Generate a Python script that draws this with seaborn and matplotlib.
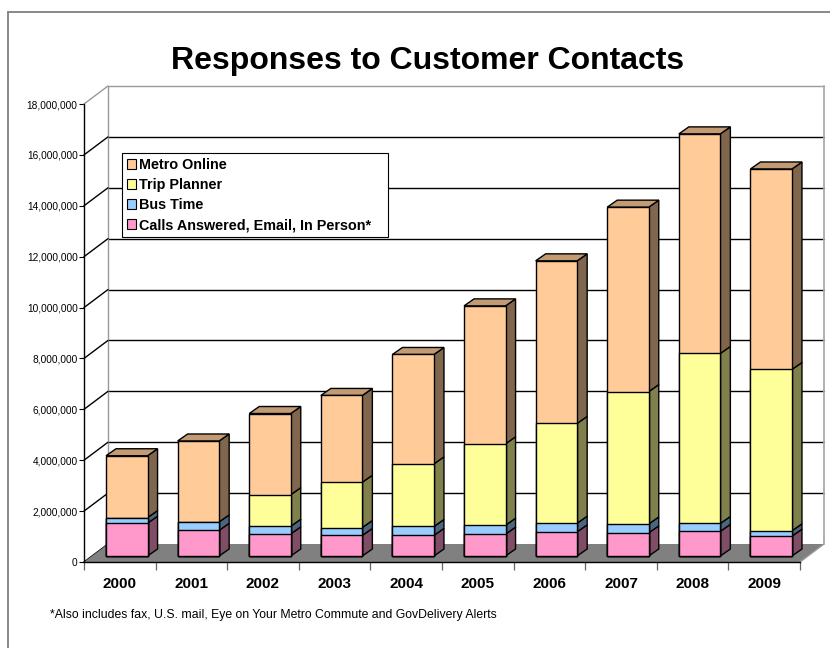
import numpy as np
import pandas as pd
import matplotlib
matplotlib.use("Agg")
import matplotlib.pyplot as plt
import matplotlib.transforms as mtransforms
from matplotlib.patches import Polygon, Patch
from matplotlib.lines import Line2D
from matplotlib.ticker import FixedLocator, FuncFormatter
from matplotlib.colors import to_rgb
import seaborn as sns

# ---------------- data ----------------
years = ["2000", "2001", "2002", "2003", "2004", "2005", "2006", "2007", "2008", "2009"]
calls = [1.29e6, 1.01e6, 0.87e6, 0.81e6, 0.81e6, 0.86e6, 0.95e6, 0.91e6, 0.97e6, 0.78e6]
bus_time = [0.22e6, 0.33e6, 0.30e6, 0.31e6, 0.35e6, 0.35e6, 0.34e6, 0.35e6, 0.31e6, 0.21e6]
trip_planner = [0.0, 0.0, 1.24e6, 1.78e6, 2.46e6, 3.20e6, 3.92e6, 5.20e6, 6.68e6, 6.34e6]
metro_online = [2.43e6, 3.18e6, 3.19e6, 3.41e6, 4.30e6, 5.42e6, 6.39e6, 7.25e6, 8.63e6, 7.88e6]

series_names = ["Calls Answered, Email, In Person*", "Bus Time", "Trip Planner", "Metro Online"]
series_values = [calls, bus_time, trip_planner, metro_online]
series_colors = ["#FF99CC", "#99CCFF", "#FFFF99", "#FFCC99"]
y_ticks = [0, 2e6, 4e6, 6e6, 8e6, 10e6, 12e6, 14e6, 16e6, 18e6]

title = "Responses to Customer Contacts"
footnote = "*Also includes fax, U.S. mail, Eye on Your Metro Commute and GovDelivery Alerts"

# ---------------- style ----------------
sns.set_style("white")
plt.rcParams["font.family"] = ["Liberation Sans", "DejaVu Sans"]
plt.rcParams["text.color"] = "black"
plt.rcParams["xtick.color"] = "black"
plt.rcParams["ytick.color"] = "black"
plt.rcParams["axes.labelcolor"] = "black"

W, H = 830, 648
fig = plt.figure(figsize=(W / 100, H / 100), dpi=100)
ax_left, ax_bottom, ax_w, ax_h = 84, 562, 716, 458
ax = fig.add_axes([ax_left / W, (H - ax_bottom) / H, ax_w / W, ax_h / H])

ymax = y_ticks[-1]
n = len(years)
ppx = ax_w / n          # pixels per category unit
ppy = ax_h / ymax       # pixels per value unit

# depth geometry (pixels)
wall_dx, wall_dy = 24, 18     # back wall offset
front_dx, front_dy = 7, 6     # bar front face offset from front plane
bar_dx, bar_dy = 10, 7        # bar depth
bar_w = 0.58

def shade(c, f):
    r, g, b = to_rgb(c)
    return (r * f, g * f, b * f)

# ---------------- data frame with cumulative stacks ----------------
df = pd.DataFrame({"year": years})
cum = np.zeros(n)
cum_cols = []
for name, vals in zip(series_names, series_values):
    cum = cum + np.array(vals)
    col = "cum_" + name
    df[col] = cum
    cum_cols.append(col)

# draw stacked front faces (tallest first so lower layers overlap)
for col, color in reversed(list(zip(cum_cols, series_colors))):
    sns.barplot(data=df, x="year", y=col, order=years, color=color, saturation=1,
                width=bar_w, edgecolor="black", linewidth=1, errorbar=None, ax=ax)

off = mtransforms.ScaledTranslation(front_dx / 100, front_dy / 100, fig.dpi_scale_trans)
for p in ax.patches:
    p.set_transform(ax.transData + off)
    p.set_zorder(4)
    p.set_joinstyle("miter")

ax.set_xlim(-0.5, n - 0.5)
ax.set_ylim(0, ymax)

# data-unit conversions
fx, fy = front_dx / ppx, front_dy / ppy
bx, by = bar_dx / ppx, bar_dy / ppy
Wx, Wy = wall_dx / ppx, wall_dy / ppy

# side and top faces of the bars
for i in range(n):
    bottom = 0.0
    xl = i - bar_w / 2 + fx
    xr = i + bar_w / 2 + fx
    for vals, color in zip(series_values, series_colors):
        top = bottom + vals[i]
        if vals[i] > 0:
            side = Polygon([(xr, bottom + fy), (xr, top + fy), (xr + bx, top + fy + by),
                            (xr + bx, bottom + fy + by)], closed=True,
                           facecolor=shade(color, 0.5), edgecolor="black", lw=1,
                           joinstyle="miter", clip_on=False, zorder=3)
            ax.add_patch(side)
            last_color = color
        bottom = top
    topface = Polygon([(xl, bottom + fy), (xr, bottom + fy), (xr + bx, bottom + fy + by),
                       (xl + bx, bottom + fy + by)], closed=True,
                      facecolor=shade(last_color, 0.76), edgecolor="black", lw=1,
                      joinstyle="miter", clip_on=False, zorder=3)
    ax.add_patch(topface)

# floor
floor = Polygon([(-0.5, 0), (n - 0.5, 0), (n - 0.5 + Wx, Wy), (-0.5 + Wx, Wy)], closed=True,
                facecolor="#808080", edgecolor="none", clip_on=False, zorder=1)
ax.add_patch(floor)

# back wall and left wall lines
for yv in y_ticks:
    c = "#999999" if yv == ymax else "black"
    if yv > 0:
        ax.plot([-0.5 + Wx, n - 0.5 + Wx], [yv + Wy, yv + Wy], color=c, lw=1,
                clip_on=False, zorder=0.5)
    ax.plot([-0.5, -0.5 + Wx], [yv, yv + Wy], color=c, lw=1, clip_on=False, zorder=0.6)
ax.plot([-0.5 + Wx, -0.5 + Wx], [Wy, ymax + Wy], color="#999999", lw=1, clip_on=False, zorder=0.5)
ax.plot([n - 0.5 + Wx, n - 0.5 + Wx], [Wy, ymax + Wy], color="#aaaaaa", lw=1.3, clip_on=False, zorder=0.5)
ax.plot([n - 0.5, n - 0.5 + Wx], [0, Wy], color="#999999", lw=1, clip_on=False, zorder=1.1)

# spines / ticks
for s in ["top", "right"]:
    ax.spines[s].set_visible(False)
for s in ["left", "bottom"]:
    ax.spines[s].set_color("black")
    ax.spines[s].set_linewidth(1)
ax.set_facecolor("none")

ax.yaxis.set_major_locator(FixedLocator(y_ticks))
ax.yaxis.set_major_formatter(FuncFormatter(lambda v, p: f"{int(round(v)):,}"))
ax.tick_params(axis="y", length=3.6, width=0.8, direction="out", labelsize=7.3, pad=1,
               color="black", labelcolor="black", left=True)
ax.set_xticks(range(n))
ax.set_xticklabels(years, fontweight="bold", fontsize=11, color="black")
ax.set_xticks(np.arange(-0.5, n, 1.0), minor=True)
ax.tick_params(axis="x", which="major", length=0, pad=11)
ax.tick_params(axis="x", which="minor", length=6, width=0.9, direction="out",
               color="#666666", bottom=True)
ax.set_xlabel("")
ax.set_ylabel("")

# legend
handles = [Patch(facecolor=c, edgecolor="black", lw=0.8, label=nm)
           for nm, c in reversed(list(zip(series_names, series_colors)))]
leg = fig.legend(handles=handles, loc="upper left",
                 bbox_to_anchor=(122 / W, 1 - 237 / H, 266 / W, 84 / H), mode="expand",
                 frameon=True, fancybox=False, edgecolor="black", framealpha=1,
                 prop={"weight": "bold", "size": 10.4}, handlelength=0.65, handleheight=0.65,
                 handletextpad=0.15, labelspacing=0.42, borderpad=0.35, borderaxespad=0)
leg.get_frame().set_linewidth(0.8)
for t in leg.get_texts():
    t.set_color("black")

# title, footnote, outer border
fig.text(428 / W, 1 - 61 / H, title, ha="center", va="center", fontsize=23,
         fontweight="bold", color="black")
fig.text(50 / W, 1 - 615 / H, footnote, ha="left", va="center", fontsize=8.8, color="black")
fig.add_artist(Line2D([8 / W, 8 / W], [0, 1 - 12 / H], transform=fig.transFigure,
                      color="#7f7f7f", lw=1.3))
fig.add_artist(Line2D([8 / W, 1], [1 - 12 / H, 1 - 12 / H], transform=fig.transFigure,
                      color="#7f7f7f", lw=1.3))

fig.savefig("out.png", dpi=100)
